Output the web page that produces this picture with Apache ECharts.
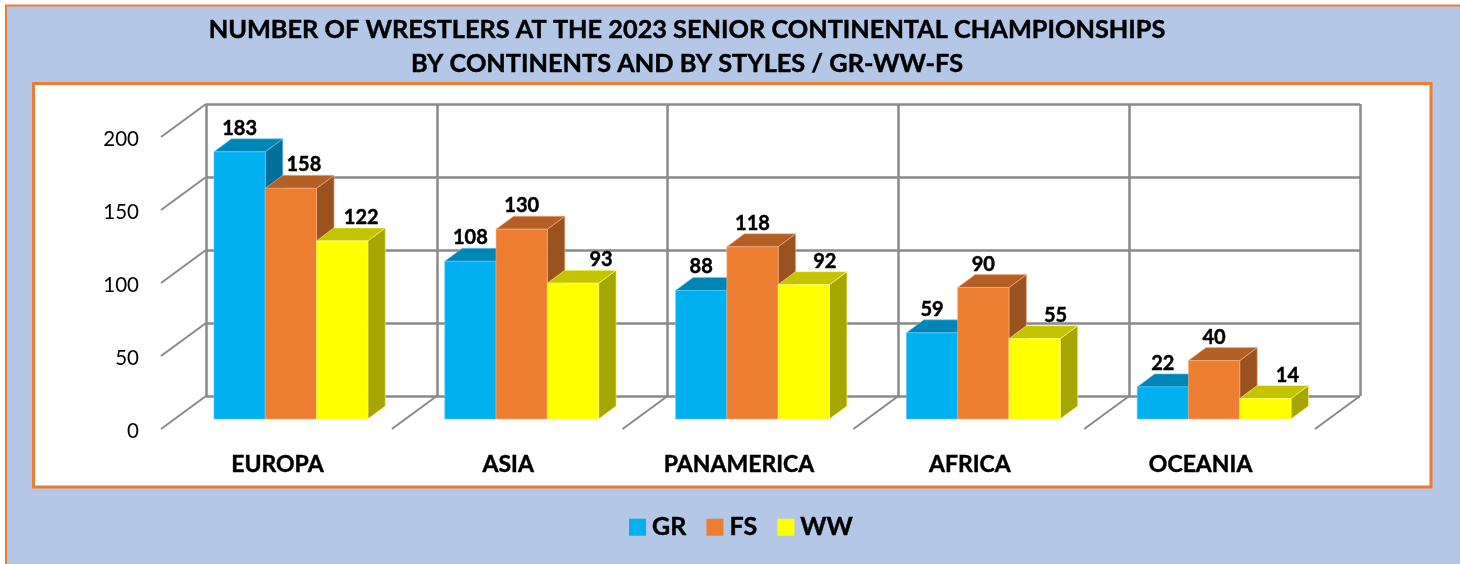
<!DOCTYPE html>
<html><head><meta charset="utf-8">
<style>html,body{margin:0;padding:0;background:#fff;overflow:hidden}#c{width:1460px;height:564px}</style>
<script src="https://cdn.jsdelivr.net/npm/echarts@6/dist/echarts.min.js"></script>
</head><body><div id="c"></div>
<script>
const titleLines = ['NUMBER OF WRESTLERS AT THE 2023 SENIOR CONTINENTAL CHAMPIONSHIPS', 'BY CONTINENTS AND BY STYLES / GR-WW-FS'];
const categories = ['EUROPA', 'ASIA', 'PANAMERICA', 'AFRICA', 'OCEANIA'];
const GR = [183, 108, 88, 59, 22];
const FS = [158, 130, 118, 90, 40];
const WW = [122, 93, 92, 55, 14];
const yTicks = [0, 50, 100, 150, 200];

const FONT = 'Lato';
const GRID = '#8a8a8a';
const GRID_W = 2.5;
const INK = 0.45;
const faces = {
  GR: {front: '#00B0F0', top: '#0086B6', side: '#006F9A', edge: '#5FCDF5'},
  FS: {front: '#ED7D31', top: '#B45F25', side: '#9A5220', edge: '#F4B183'},
  WW: {front: '#FFFF00', top: '#C4C400', side: '#A6A600', edge: '#FFFF80'}
};
const DEPTH_X = 17.5, DEPTH_Y = 13, BAR_RATIO = 0.2222;
const WALL_DX = 45, WALL_DY = 33;
// hand-placed label shifts seen in the reference, per style and category
const labelShift = {GR: [0,0,0,0,0], FS: [13,0,0,0,0], WW: [19,28,21,21,22]};

function barSeries(name, values, pos) {
  const f = faces[name];
  return {
    name, type: 'custom', xAxisIndex: 2, yAxisIndex: 2, z: 5,
    itemStyle: {color: f.front},
    encode: {x: 0, y: 1},
    data: values.map((v, i) => [i, v]),
    renderItem(params, api) {
      const idx = api.value(0), val = api.value(1);
      const base = api.coord([idx, 0]), topP = api.coord([idx, val]);
      const w = api.size([1, 0])[0] * BAR_RATIO;
      const x0 = base[0] + (pos - 1.5) * w, x1 = x0 + w, y0 = base[1], y1 = topP[1];
      const poly = (points, fill) => ({type: 'polygon', shape: {points}, style: {fill, stroke: f.edge, lineWidth: 0.6}});
      return {type: 'group', children: [
        poly([[x1, y0], [x1 + DEPTH_X, y0 - DEPTH_Y], [x1 + DEPTH_X, y1 - DEPTH_Y], [x1, y1]], f.side),
        poly([[x0, y1], [x1, y1], [x1 + DEPTH_X, y1 - DEPTH_Y], [x0 + DEPTH_X, y1 - DEPTH_Y]], f.top),
        poly([[x0, y0], [x1, y0], [x1, y1], [x0, y1]], f.front),
        {type: 'text', z2: 50, style: {
          text: String(val), x: (x0 + x1) / 2 + labelShift[name][idx], y: y1 - DEPTH_Y - 10.5,
          align: 'center', verticalAlign: 'middle', fill: '#000', stroke: '#000', lineWidth: INK,
          font: 'bold 20px ' + FONT
        }}
      ]};
    }
  };
}

const wallSeries = {
  type: 'custom', xAxisIndex: 0, yAxisIndex: 0, z: 1, silent: true,
  data: yTicks.map(v => [0, v]),
  encode: {x: 0, y: 1},
  renderItem(params, api) {
    const p = api.coord([0, api.value(1)]);
    const x = p[0] - api.size([1, 0])[0] / 2;
    return {type: 'line', shape: {x1: x, y1: p[1], x2: x - WALL_DX, y2: p[1] + WALL_DY}, style: {stroke: GRID, lineWidth: 2}};
  }
};
const floorSeries = {
  type: 'custom', xAxisIndex: 0, yAxisIndex: 0, z: 1, silent: true,
  data: categories.map((c, i) => [i, 0]),
  encode: {x: 0, y: 1},
  renderItem(params, api) {
    const i = api.value(0), p = api.coord([i, 0]), b = api.size([1, 0])[0];
    const x = p[0] + b / 2;
    return {type: 'line', shape: {x1: x, y1: p[1], x2: x - WALL_DX, y2: p[1] + WALL_DY}, style: {stroke: GRID, lineWidth: 2}};
  }
};

const chart = echarts.init(document.getElementById('c'), null, {renderer: 'canvas'});
const hidden = {show: false};
chart.setOption({
  animation: false,
  backgroundColor: '#fff',
  graphic: [
    {type: 'rect', z: -10, shape: {x: 6, y: 5.5, width: 1470, height: 580}, style: {fill: '#B4C7E7', stroke: '#ED7D31', lineWidth: 2}},
    {type: 'rect', z: -9, shape: {x: 33.5, y: 83.5, width: 1397.5, height: 403.5}, style: {fill: '#fff', stroke: '#ED7D31', lineWidth: 3}}
  ],
  title: {
    text: titleLines.join('\n'), left: 682, top: 8, textAlign: 'center',
    textStyle: {fontFamily: FONT, fontWeight: 'bold', fontSize: 25.3, lineHeight: 34, color: '#000', textBorderColor: '#000', textBorderWidth: INK}
  },
  legend: {
    left: 624, top: 509.5, itemWidth: 17, itemHeight: 17, itemGap: 20, icon: 'rect',
    data: ['GR', 'FS', 'WW'],
    textStyle: {fontFamily: FONT, fontWeight: 'bold', fontSize: 25, color: '#000', padding: [0, 0, 0, 1], textBorderColor: '#000', textBorderWidth: INK}
  },
  grid: [
    {left: 206, right: 100, top: 104, bottom: 168},   // back wall
    {left: 162, right: 144, top: 139, bottom: 133},   // front edge: tick labels
    {left: 175.5, right: 130.5, top: 127, bottom: 145}    // bar plane
  ],
  xAxis: [
    {type: 'category', gridIndex: 0, data: categories, axisLine: hidden, axisTick: hidden, axisLabel: hidden,
      splitLine: {show: true, lineStyle: {color: GRID, width: GRID_W}}},
    {type: 'category', gridIndex: 1, data: categories, axisLine: hidden, axisTick: hidden,
      axisLabel: {margin: 22, color: '#000', fontFamily: FONT, fontWeight: 'bold', fontSize: 23, textBorderColor: '#000', textBorderWidth: INK}},
    {type: 'category', gridIndex: 2, data: categories, axisLine: hidden, axisTick: hidden, axisLabel: hidden}
  ],
  yAxis: [
    {type: 'value', gridIndex: 0, min: 0, max: 200, interval: 50, axisLine: hidden, axisTick: hidden, axisLabel: hidden,
      splitLine: {lineStyle: {color: GRID, width: GRID_W}}},
    {type: 'value', gridIndex: 1, min: 0, max: 200, interval: 50, axisLine: hidden, axisTick: hidden, splitLine: hidden,
      axisLabel: {margin: 23, color: '#000', fontFamily: FONT, fontSize: 20.5}},
    {type: 'value', gridIndex: 2, min: 0, max: 200, interval: 50, axisLine: hidden, axisTick: hidden, axisLabel: hidden, splitLine: hidden}
  ],
  series: [wallSeries, floorSeries, barSeries('GR', GR, 0), barSeries('FS', FS, 1), barSeries('WW', WW, 2)]
});
</script></body></html>
